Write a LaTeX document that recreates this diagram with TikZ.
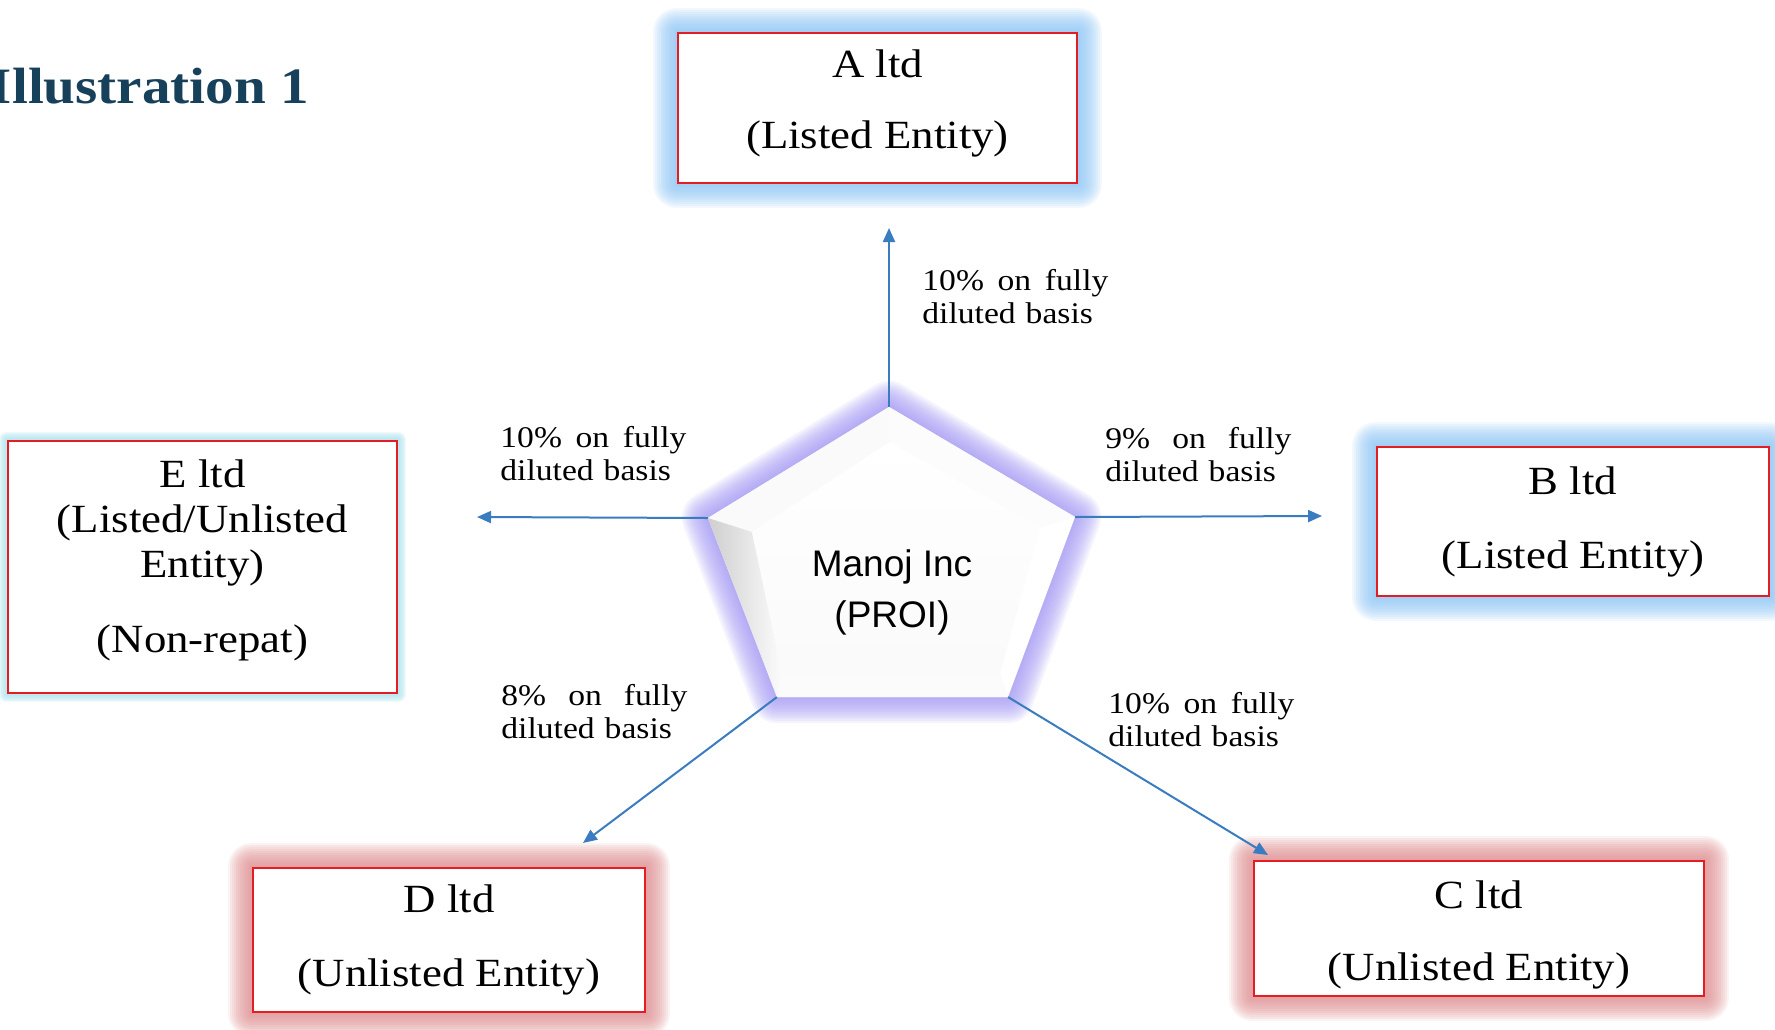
\documentclass[tikz,border=0pt]{standalone}
\usepackage{fontspec}
\setmainfont{Liberation Serif}[FakeStretch=1.12]
\newfontfamily\pentafont{Liberation Sans}
\usetikzlibrary{arrows.meta,backgrounds}

\definecolor{boxred}{RGB}{226,30,36}
\definecolor{linkblue}{RGB}{58,124,192}
\definecolor{titleblue}{RGB}{23,64,91}
\definecolor{glowblue}{RGB}{134,192,243}
\definecolor{glowred}{RGB}{219,134,136}
\definecolor{glowcyan}{RGB}{167,224,235}
\definecolor{glowlav}{RGB}{158,147,242}

%% soft halo: colour, reach, path
\newcommand{\glowpath}[3]{%
  \foreach \g in {1,...,12}
    \draw[#1, draw opacity=0.11, line join=round, line width=\g*#2/6] #3;}

\begin{document}
\begin{tikzpicture}[x=0.5pt, y=-0.5pt,
    entity/.style={draw=boxred, line width=1.25pt, fill=white, inner sep=0pt,
      align=center, font=\fontsize{20}{24}\selectfont},
    share/.style={text width=93pt, align=left, inner sep=0pt, anchor=north west,
      font=\fontsize{15}{16.5}\selectfont},
    link/.style={linkblue, line width=1pt, -{Triangle[length=7pt,width=6pt]}}]
    \useasboundingbox (0,0) rectangle (1775,1029);
    %% title
    \node[anchor=base east, text=titleblue, font=\bfseries\fontsize{25.5}{30}\selectfont]
      (title) at (316,103) {Illustration 1};
    %% pentagon corners and arrow ends
    \coordinate (pt) at (889,407);
    \coordinate (pr) at (1075,517);
    \coordinate (pbr) at (1008,697);
    \coordinate (pbl) at (777,697);
    \coordinate (pl) at (708,518);
    \coordinate (it) at (890,442);
    \coordinate (ir) at (1040,528);
    \coordinate (ibr) at (1000,673);
    \coordinate (ibl) at (782,673);
    \coordinate (il) at (752,532);
    \coordinate (ta) at (889,228);
    \coordinate (tb) at (1322,516);
    \coordinate (tc) at (1268,855);
    \coordinate (td) at (583,843);
    \coordinate (te) at (477,517);
    %% shareholdings
    \draw[link] (pt) -- (ta);
    \draw[link] (pr) -- (tb);
    \draw[link] (pbr) -- (tc);
    \draw[link] (pbl) -- (td);
    \draw[link] (pl) -- (te);
    %% bevelled pentagon
    \fill[white] (pt) -- (pr) -- (pbr) -- (pbl) -- (pl) -- cycle;
    \fill[gray!4] (pt) -- (pl) -- (il) -- (it) -- cycle;
    \fill[gray!2] (pt) -- (pr) -- (ir) -- (it) -- cycle;
    \shade[left color=gray!38, right color=gray!3] (pl) -- (pbl) -- (ibl) -- (il) -- cycle;
    \fill[gray!3] (pbl) -- (pbr) -- (ibr) -- (ibl) -- cycle;
    \shade[top color=white, bottom color=gray!4] (it) -- (ir) -- (ibr) -- (ibl) -- (il) -- cycle;
    \node[align=center, inner sep=0pt, font=\pentafont\fontsize{18.5}{25.5}\selectfont]
      (proi) at (892,592) {Manoj Inc\\(PROI)};
    %% companies
    \node[entity, minimum width=199.5pt, minimum height=75pt] (altd) at (877.5,108)
      {A ltd\\[11.5pt](Listed Entity)\rule[-9pt]{0pt}{1pt}};
    \node[entity, minimum width=196pt, minimum height=74.5pt] (bltd) at (1573,521.5)
      {B ltd\\[13pt](Listed Entity)};
    \node[entity, minimum width=225pt, minimum height=67.5pt] (cltd) at (1479,928.5)
      {\rule{0pt}{20pt}C ltd\\[12pt](Unlisted Entity)};
    \node[entity, minimum width=196pt, minimum height=72pt] (dltd) at (449,940)
      {D ltd\\[13pt](Unlisted Entity)};
    \node[entity, minimum width=194.5pt, minimum height=126pt,
      font=\fontsize{20}{22.5}\selectfont] (eltd) at (202.5,567)
      {E ltd\\(Listed/Unlisted\\Entity)\\[15pt](Non-repat)\rule[-11pt]{0pt}{1pt}};
    %% labels
    \node[share] (sa) at (922,269) {10\%\hfill on\hfill fully\\diluted basis};
    \node[share] (sb) at (1105,427) {9\%\hfill on\hfill fully\\diluted basis};
    \node[share] (sc) at (1108,692) {10\%\hfill on\hfill fully\\diluted basis};
    \node[share] (sd) at (501,684) {8\%\hfill on\hfill fully\\diluted basis};
    \node[share] (se) at (500,426) {10\%\hfill on\hfill fully\\diluted basis};
    %% glows
    \begin{pgfonlayer}{background}
      \glowpath{glowblue}{12pt}{(altd.south west) rectangle (altd.north east)}
      \glowpath{glowblue}{12pt}{(bltd.south west) rectangle (bltd.north east)}
      \glowpath{glowred}{12pt}{(cltd.south west) rectangle (cltd.north east)}
      \glowpath{glowred}{12pt}{(dltd.south west) rectangle (dltd.north east)}
      \glowpath{glowcyan}{4pt}{(eltd.south west) rectangle (eltd.north east)}
      \glowpath{glowlav}{13pt}{(pt) -- (pr) -- (pbr) -- (pbl) -- (pl) -- cycle}
    \end{pgfonlayer}
\end{tikzpicture}
\end{document}
